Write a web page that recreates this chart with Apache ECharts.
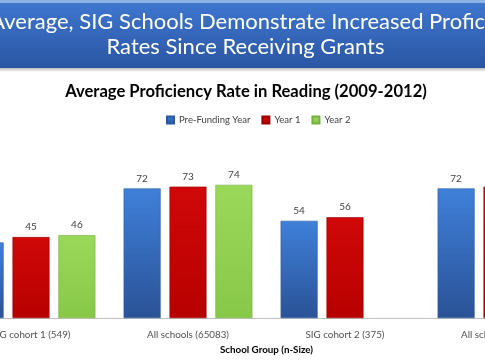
<!DOCTYPE html>
<html>
<head>
<meta charset="utf-8">
<script src="https://cdn.jsdelivr.net/npm/echarts@6/dist/echarts.min.js"></script>
<style>
html,body{margin:0;padding:0;background:#fff;overflow:hidden;width:485px;height:360px;}
#wrap{position:relative;width:485px;height:360px;overflow:hidden;}
#c{position:absolute;left:-100px;top:0;width:700px;height:360px;}
</style>
</head>
<body>
<div id="wrap"><div id="c"></div></div>
<script>
const categories = ["SIG cohort 1 (549)", "All schools (65083)", "SIG cohort 2 (375)", "All schools (65083)"];
const preFunding = [42, 72, 54, 72];
const year1 = [45, 73, 56, 73];
const year2 = [46, 74, null, null];
const seriesNames = ["Pre-Funding Year", "Year 1", "Year 2"];
const bannerLines = ["On Average, SIG Schools Demonstrate Increased Proficiency", "Rates Since Receiving Grants"];
const chartTitle = "Average Proficiency Rate in Reading (2009-2012)";
const axisTitle = "School Group (n-Size)";

const FONT = "Lato";
const OX = 100; // canvas offset relative to the visible window
const chart = echarts.init(document.getElementById('c'), null, {renderer: 'canvas'});

function grad(top, bottom) {
  return new echarts.graphic.LinearGradient(0, 0, 0, 1, [
    {offset: 0, color: top}, {offset: 1, color: bottom}
  ]);
}
const colors = [grad('#3f80da', '#2a5296'), grad('#d00808', '#b80000'), grad('#9ad85a', '#88c848')];
const borders = ['#2a5aa0', '#9a0000', '#76b040'];
const legendColors = ['#3a72c8', '#c00000', '#92d050'];

function barSeries(i, data) {
  return {
    name: seriesNames[i],
    type: 'bar',
    data: data,
    barWidth: 37,
    barGap: '24%',
    itemStyle: {color: colors[i], borderColor: borders[i], borderWidth: 0.6},
    label: {show: true, position: 'top', distance: 5, color: '#404040', fontSize: 10, fontFamily: FONT},
    emphasis: {disabled: true}
  };
}

chart.setOption({
  animation: false,
  color: legendColors,
  graphic: [
    {type: 'rect', shape: {x: 0, y: 66, width: 700, height: 6}, style: {fill: grad('#9a9a9a', '#ffffff')}, z: 1},
    {type: 'rect', shape: {x: 0, y: 0, width: 700, height: 68}, style: {fill: grad('#3f78d0', '#2b56a4')}, z: 2},
    {type: 'rect', shape: {x: 0, y: 0, width: 700, height: 3}, style: {fill: '#8db2e6'}, z: 3},
    {type: 'text', x: OX + 245.5, y: 22, z: 4, style: {text: bannerLines[0], fill: '#ffffff', font: '22px ' + FONT, textAlign: 'center', textVerticalAlign: 'middle'}},
    {type: 'text', x: OX + 245.5, y: 47, z: 4, style: {text: bannerLines[1], fill: '#ffffff', font: '22px ' + FONT, textAlign: 'center', textVerticalAlign: 'middle'}},
    {type: 'text', x: OX + 246, y: 92, z: 4, style: {text: chartTitle, fill: '#000000', font: 'bold 16.6px ' + FONT, textAlign: 'center', textVerticalAlign: 'middle'}}
  ],
  legend: {
    data: seriesNames,
    left: OX + 161, top: 110,
    itemWidth: 7, itemHeight: 7, itemGap: 11,
    icon: 'rect',
    textStyle: {fontFamily: FONT, fontSize: 9.5, color: '#404040'}
  },
  grid: {left: OX - 47.5, width: 628, top: 138, height: 185, containLabel: false},
  xAxis: {
    type: 'category',
    data: categories,
    axisLine: {lineStyle: {color: '#c0c0c0', width: 1}},
    axisTick: {show: false},
    axisLabel: {color: '#505050', fontSize: 9.8, fontFamily: FONT, margin: 12},
    name: axisTitle,
    nameLocation: 'middle',
    nameGap: 26,
    nameTextStyle: {fontFamily: FONT, fontWeight: 'bold', fontSize: 9.8, color: '#000'}
  },
  yAxis: {
    type: 'value', min: 0, max: 100, show: false,
    splitLine: {show: false}
  },
  series: [barSeries(0, preFunding), barSeries(1, year1), barSeries(2, year2)]
});
</script>
</body>
</html>
